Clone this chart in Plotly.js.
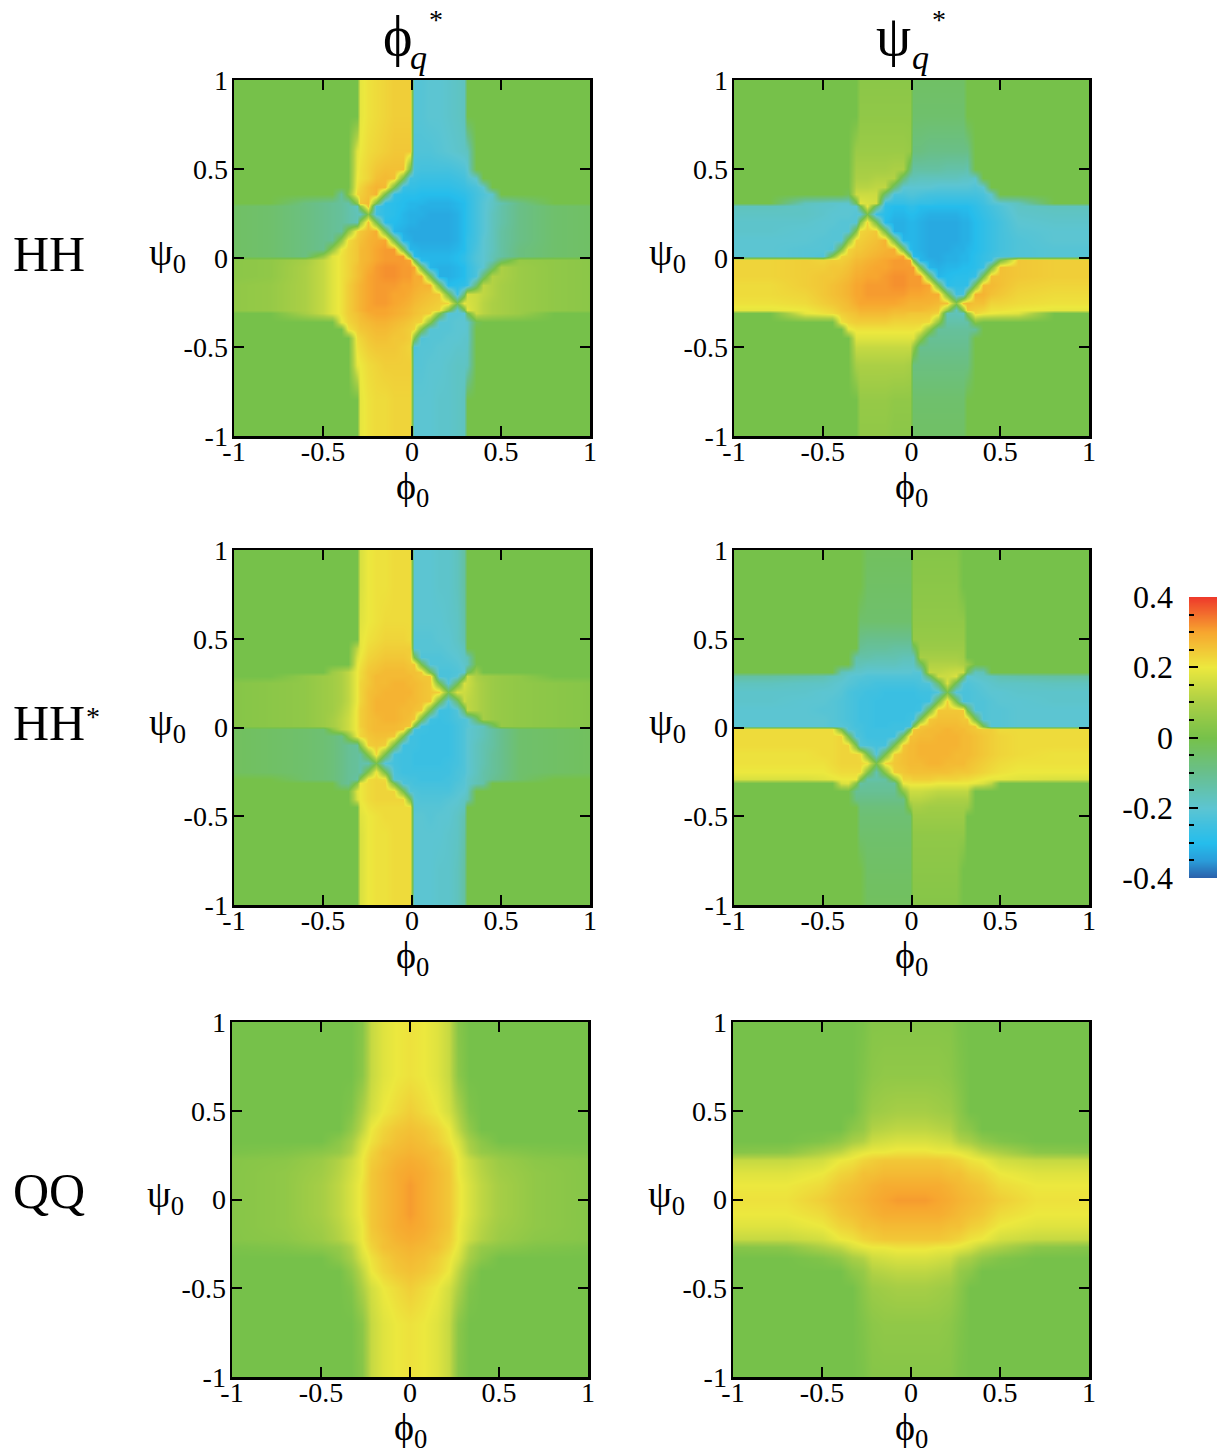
<!DOCTYPE html>
<html><head><meta charset="utf-8">
<script src="https://cdn.plot.ly/plotly-3.0.1.min.js"></script>
<style>html,body{margin:0;padding:0;background:#fff}</style></head>
<body><div id="chart" style="width:1221px;height:1456px"></div>
<script>
// Values are in hundredths. Rows run from the top of the panel down.
const phi0Grid = [-1,-.8,-.6,-.5,-.45,-.4,-.36,-.31,-.29,-.25,-.2,-.15,-.1,-.05,-.01,.01,.05,.1,.15,.2,.25,.29,.31,.36,.4,.45,.5,.6,.8,1];
const qqGrid = [-1,-.7,-.5,-.4,-.33,-.27,-.22,-.15,-.08,0,.08,.15,.22,.27,.33,.4,.5,.7,1];

const hhPhi = [
[0,0,0,0,0,0,0,0,19,21,22,23,24,24,24,-21,-21,-20,-20,-19,-18,-17,0,0,0,0,0,0,0,0],
[0,0,0,0,0,0,0,0,19,21,22,23,24,24,24,-21,-21,-20,-20,-19,-18,-17,0,0,0,0,0,0,0,0],
[0,0,0,0,0,0,0,18,20,22,23,24,25,25,25,-22,-22,-22,-21,-20,-19,-18,-17,0,0,0,0,0,0,0],
[0,0,0,0,0,0,0,19,21,23,25,26,26,26,0,-23,-24,-24,-24,-24,-23,-22,-20,0,0,0,0,0,0,0],
[0,0,0,0,0,0,0,20,21,23,26,27,26,0,-25,-25,-26,-26,-26,-26,-25,-24,-22,-19,0,0,0,0,0,0],
[0,0,0,0,0,0,0,21,23,26,28,27,0,-26,-27,-27,-28,-28,-28,-28,-27,-26,-25,-23,-20,0,0,0,0,0],
[0,0,0,0,0,-12,3,23,24,26,28,0,-27,-29,-29,-29,-30,-30,-30,-30,-29,-28,-27,-24,-22,-19,0,0,0,0],
[0,0,-8,-10,-11,-12,-14,4,25,27,0,-28,-29,-30,-31,-31,-31,-32,-32,-32,-31,-30,-28,-24,-21,-18,-15,-9,0,0],
[-4,-5,-8,-10,-11,-12,-14,-17,4,26,-24,-28,-29,-30,-31,-31,-32,-32,-32,-32,-31,-30,-28,-24,-21,-18,-14,-9,-5,-4],
[-4,-5,-8,-10,-11,-12,-14,-16,-18,3,-25,-28,-29,-31,-32,-32,-32,-33,-33,-33,-32,-30,-28,-24,-21,-17,-14,-9,-5,-4],
[-4,-5,-8,-10,-11,-12,-14,-16,5,26,0,-29,-30,-31,-32,-32,-33,-33,-33,-33,-32,-30,-28,-24,-21,-17,-14,-9,-5,-4],
[-4,-5,-8,-10,-11,-12,5,23,25,27,29,0,-31,-32,-33,-33,-33,-33,-33,-33,-32,-30,-28,-24,-21,-17,-13,-9,-5,-4],
[-4,-5,-8,-10,-11,5,22,25,26,28,29,30,0,-31,-32,-33,-33,-33,-33,-33,-32,-30,-27,-24,-20,-17,-13,-9,-5,-4],
[-4,-5,-8,-10,5,20,23,25,27,28,30,31,31,0,-31,-31,-32,-32,-32,-32,-31,-30,-27,-23,-20,-17,-13,-8,-5,-4],
[-4,-5,-8,6,18,21,23,25,27,28,30,31,31,31,0,-30,-31,-31,-31,-31,-30,-28,-26,-22,-20,-16,-13,-8,-5,-4],
[4,5,9,14,18,21,23,25,27,28,30,31,31,31,30,0,-30,-31,-31,-31,-30,-28,-26,-22,-20,-16,-6,6,5,4],
[4,5,10,14,18,21,23,26,27,29,31,32,32,31,31,30,0,-31,-32,-32,-31,-30,-27,-23,-20,-6,10,7,5,4],
[4,5,10,14,18,21,23,26,27,30,31,32,32,31,31,29,29,0,-32,-32,-31,-30,-27,-23,-6,11,10,7,5,4],
[5,6,10,14,18,21,24,27,28,30,31,31,31,30,30,29,28,28,0,-30,-29,-28,-26,-6,13,11,9,7,5,4],
[5,6,10,14,18,21,24,27,28,30,31,31,30,30,29,28,27,26,25,0,-26,-6,16,15,13,11,9,7,5,4],
[5,6,10,14,18,21,24,27,28,30,31,31,30,29,28,27,26,25,24,23,0,19,17,15,12,10,9,7,5,4],
[5,6,10,14,18,21,24,27,28,30,30,30,29,28,27,26,25,24,23,3,-21,-2,18,15,12,10,9,7,5,4],
[0,0,9,14,18,21,24,26,27,29,30,30,29,28,27,26,25,24,3,-21,-21,-20,-2,15,12,10,9,7,0,0],
[0,0,0,0,0,19,23,25,26,27,28,28,27,26,25,24,23,3,-21,-21,-20,-20,-19,-2,0,0,0,0,0,0],
[0,0,0,0,0,0,21,24,25,26,27,27,26,25,24,23,2,-21,-21,-21,-20,-20,-19,0,0,0,0,0,0,0],
[0,0,0,0,0,0,0,22,23,25,26,26,25,25,24,2,-22,-21,-21,-20,-20,-19,-19,0,0,0,0,0,0,0],
[0,0,0,0,0,0,0,21,22,24,25,25,25,24,23,-22,-21,-21,-20,-20,-19,-19,-18,0,0,0,0,0,0,0],
[0,0,0,0,0,0,0,19,20,22,23,24,24,24,24,-21,-21,-20,-20,-19,-18,-18,-17,0,0,0,0,0,0,0],
[0,0,0,0,0,0,0,0,19,21,22,22,23,23,23,-20,-20,-20,-19,-19,-18,-17,0,0,0,0,0,0,0,0],
[0,0,0,0,0,0,0,0,19,21,22,22,23,23,23,-20,-20,-20,-19,-19,-18,-17,0,0,0,0,0,0,0,0]
];

const hhStarPhi = [
[0,0,0,0,0,0,0,0,17,20,21,21,22,22,22,-20,-20,-20,-19,-19,-17,-13,0,0,0,0,0,0,0,0],
[0,0,0,0,0,0,0,0,17,20,21,21,22,22,22,-20,-20,-20,-19,-19,-17,-13,0,0,0,0,0,0,0,0],
[0,0,0,0,0,0,0,0,18,20,21,22,22,22,22,-20,-20,-20,-20,-19,-18,-14,0,0,0,0,0,0,0,0],
[0,0,0,0,0,0,0,0,19,21,22,23,23,23,22,-21,-21,-21,-20,-20,-18,-15,0,0,0,0,0,0,0,0],
[0,0,0,0,0,0,0,13,19,22,23,24,24,24,24,-21,-21,-21,-21,-20,-19,-17,0,0,0,0,0,0,0,0],
[0,0,0,0,0,0,0,17,20,23,24,25,25,25,24,0,-22,-22,-22,-21,-20,-18,-16,0,0,0,0,0,0,0],
[0,0,0,0,0,0,0,19,21,24,25,26,26,26,25,25,0,-22,-22,-22,-21,-19,-17,0,0,0,0,0,0,0],
[0,0,0,0,7,10,13,20,22,25,26,27,27,27,26,26,25,0,-23,-23,-22,-20,-3,7,0,0,0,0,0,0],
[0,0,5,7,8,10,13,20,22,25,27,27,27,27,27,26,25,25,-23,-23,-21,-3,15,10,8,7,6,5,0,0],
[3,4,5,7,8,10,13,20,23,25,27,27,28,28,27,27,26,25,0,-22,-3,17,15,11,9,7,6,5,4,3],
[3,4,5,7,8,10,13,20,23,26,27,28,28,28,28,27,26,25,24,0,17,15,14,11,9,7,6,5,4,3],
[3,4,5,7,8,10,13,20,23,26,28,28,28,28,27,27,26,25,0,-22,-5,15,13,11,9,7,6,5,4,3],
[3,4,5,7,8,11,14,21,24,26,28,28,28,27,27,26,25,0,-25,-25,-22,-5,13,11,9,7,6,5,4,3],
[3,4,5,7,9,12,15,21,24,26,27,28,28,27,26,25,0,-25,-26,-25,-23,-22,-21,-5,9,7,6,5,4,3],
[3,4,5,7,9,12,15,21,24,26,27,27,27,26,25,0,-25,-26,-26,-26,-24,-22,-21,-18,-17,-5,6,5,4,3],
[-3,-4,-5,-6,4,12,15,21,23,26,27,27,27,26,0,-24,-25,-26,-26,-26,-24,-22,-20,-18,-16,-13,-10,-5,-4,-3],
[-3,-4,-5,-6,-7,-9,4,20,23,25,26,26,25,0,-25,-25,-26,-26,-26,-26,-24,-22,-20,-18,-16,-13,-10,-5,-4,-3],
[-3,-4,-5,-6,-7,-9,-11,-12,4,24,25,24,0,-25,-25,-25,-26,-26,-26,-26,-24,-22,-20,-17,-15,-13,-10,-5,-4,-3],
[-3,-4,-5,-6,-7,-9,-11,-12,-13,4,23,0,-24,-25,-25,-26,-26,-26,-26,-26,-24,-22,-20,-17,-15,-12,-10,-5,-4,-3],
[-3,-4,-5,-6,-7,-9,-11,-12,-14,-15,0,-22,-24,-25,-25,-26,-26,-26,-26,-25,-24,-22,-20,-17,-15,-12,-10,-5,-4,-3],
[-3,-4,-5,-6,-7,-9,-11,-12,-14,3,21,0,-23,-25,-25,-25,-25,-25,-25,-25,-23,-22,-20,-17,-14,-12,-10,-5,-4,-3],
[0,0,-5,-6,-7,-9,-11,-13,3,22,23,22,-22,-23,-24,-24,-25,-25,-25,-24,-23,-21,-19,-16,-14,-11,-9,-5,0,0],
[0,0,0,0,0,-9,-11,3,20,22,23,23,0,-23,-23,-24,-24,-24,-24,-24,-22,-21,-19,-16,-14,0,0,0,0,0],
[0,0,0,0,0,0,0,18,20,22,23,23,23,0,-22,-22,-23,-23,-23,-23,-21,-20,-18,0,0,0,0,0,0,0],
[0,0,0,0,0,0,0,17,20,22,23,23,23,23,0,-21,-22,-22,-22,-21,-20,-18,-16,0,0,0,0,0,0,0],
[0,0,0,0,0,0,0,0,19,21,22,22,22,22,22,-21,-21,-21,-21,-20,-19,-17,0,0,0,0,0,0,0,0],
[0,0,0,0,0,0,0,0,18,20,21,22,22,22,22,-20,-20,-21,-20,-20,-18,-15,0,0,0,0,0,0,0,0],
[0,0,0,0,0,0,0,0,17,20,21,21,22,22,22,-20,-20,-20,-20,-19,-18,-14,0,0,0,0,0,0,0,0],
[0,0,0,0,0,0,0,0,17,20,21,21,22,22,22,-20,-20,-20,-19,-19,-17,-13,0,0,0,0,0,0,0,0],
[0,0,0,0,0,0,0,0,17,20,21,21,22,22,22,-20,-20,-20,-19,-19,-17,-13,0,0,0,0,0,0,0,0]
];

const qqPhi = [
[0,0,0,0,0,3,14,18,20,21,20,18,14,3,0,0,0,0,0],
[0,0,0,0,0,4,14,18,20,21,20,18,14,4,0,0,0,0,0],
[0,0,0,0,2,10,16,20,22,24,22,20,16,10,2,0,0,0,0],
[0,0,0,0,5,13,20,23,25,26,25,23,20,13,5,0,0,0,0],
[0,0,0,4,9,17,21,24,26,27,26,24,21,17,9,4,0,0,0],
[1,2,4,6,11,19,23,26,27,28,27,26,23,19,11,6,4,2,1],
[3,4,7,11,15,20,24,26,28,29,28,26,24,20,15,11,7,4,3],
[3,5,8,12,16,20,25,27,29,30,29,27,25,20,16,12,8,5,3],
[3,5,9,13,17,21,25,27,29,31,29,27,25,21,17,13,9,5,3],
[3,5,9,13,17,21,25,27,29,31,29,27,25,21,17,13,9,5,3],
[3,5,9,13,17,21,25,27,29,31,29,27,25,21,17,13,9,5,3],
[3,5,8,12,16,20,25,27,29,30,29,27,25,20,16,12,8,5,3],
[3,4,7,11,15,20,24,26,28,29,28,26,24,20,15,11,7,4,3],
[1,2,4,6,11,19,23,26,27,28,27,26,23,19,11,6,4,2,1],
[0,0,0,4,9,17,21,24,26,27,26,24,21,17,9,4,0,0,0],
[0,0,0,0,5,13,20,23,25,26,25,23,20,13,5,0,0,0,0],
[0,0,0,0,2,10,16,20,22,24,22,20,16,10,2,0,0,0,0],
[0,0,0,0,0,4,14,18,20,21,20,18,14,4,0,0,0,0,0],
[0,0,0,0,0,3,14,18,20,21,20,18,14,3,0,0,0,0,0]
];

const scaleLevels = [-40,-36,-32,-28,-24,-20,-16,-12,-8,-4,0,4,8,12,16,20,24,28,32,36,40];
const ticks = [-1,-.5,0,.5,1];
const tickLabels = ['-1','-0.5','0','0.5','1'];
const scaleTicks = [-.4,-.2,0,.2,.4];
const scaleTickLabels = ['-0.4','-0.2','0','0.2','0.4'];

const colors = [[0,'#2a5ea9'],[.0625,'#2a9cd9'],[.125,'#25bdec'],[.1875,'#3fc0e0'],[.25,'#5cc5d2'],[.375,'#68bf8e'],[.5,'#76c14a'],
  [.625,'#abcf45'],[.75,'#ece83e'],[.875,'#f7a62f'],[1,'#ee3a2b']];

const W=1221,H=1456, FONT='"Liberation Serif","Times New Roman",serif';
const panels = [
 {n:1,l:234,r:590,t:80,b:436,z:hhPhi,swap:false,grid:phi0Grid},
 {n:2,l:734,r:1089,t:80,b:436,z:hhPhi,swap:true,grid:phi0Grid},
 {n:3,l:234,r:590,t:550,b:905,z:hhStarPhi,swap:false,grid:phi0Grid},
 {n:4,l:734,r:1089,t:550,b:905,z:hhStarPhi,swap:true,grid:phi0Grid},
 {n:5,l:232,r:588,t:1022,b:1377,z:qqPhi,swap:false,grid:qqGrid},
 {n:6,l:733,r:1089,t:1022,b:1377,z:qqPhi,swap:true,grid:qqGrid}
];
const traces=[], annotations=[];
const layout={width:W,height:H,autosize:false,margin:{l:0,r:0,t:0,b:0},paper_bgcolor:'#fff',plot_bgcolor:'#fff',showlegend:false,font:{family:FONT,color:'#000'}};
function note(text,x,y,size,extra){annotations.push(Object.assign({text:text,x:x/W,y:1-y/H,xref:'paper',yref:'paper',showarrow:false,xanchor:'center',yanchor:'middle',font:{family:FONT,size:size,color:'#000'}},extra||{}));}
panels.forEach(p=>{
  const s=p.n===1?'':p.n;
  const ysAsc=p.grid, zAsc=p.z.slice().reverse().map(r=>r.map(v=>v/100));
  traces.push({type:'heatmap',xaxis:'x'+s,yaxis:'y'+s,z:zAsc,transpose:p.swap,x:p.grid,y:ysAsc,
    zmin:-.4,zmax:.4,zsmooth:'best',colorscale:colors,showscale:false,hoverinfo:'skip'});
  const ax={range:[-1,1],tickmode:'array',tickvals:ticks,ticktext:tickLabels,ticks:'inside',ticklen:10,tickwidth:2,tickcolor:'#000',
    showline:true,linecolor:'#000',linewidth:2.5,mirror:'ticks',showgrid:false,zeroline:false,tickfont:{family:FONT,size:28,color:'#000'}};
  layout['xaxis'+s]=Object.assign({},ax,{domain:[p.l/W,p.r/W],anchor:'y'+s,ticklabelstandoff:-11});
  layout['yaxis'+s]=Object.assign({},ax,{domain:[1-p.b/H,1-p.t/H],anchor:'x'+s,ticklabelstandoff:-2});
  const cx=(p.l+p.r)/2;
  note('ϕ<sub>0</sub>',cx,p.b+53,38);
  note('ψ<sub>0</sub>',p.l-67,(p.t+p.b)/2-3,38);
});
note('ϕ',397,36,56);
note('<i>q</i>',418,58,34);
note('*',436,20,28);
note('ψ',893,36,56);
note('<i>q</i>',920,58,34);
note('*',939,20,28);
note('HH',11,254,50,{xanchor:'left'});
note('HH',11,723,50,{xanchor:'left'});
note('*',93,716,28);
note('QQ',11,1191,50,{xanchor:'left'});

// colour scale drawn as its own small heatmap so the labels sit on the left
const lv=scaleLevels.map(v=>v/100);
traces.push({type:'heatmap',xaxis:'x7',yaxis:'y7',x:[0,1],y:lv,z:lv.map(v=>[v,v]),zmin:-.4,zmax:.4,zsmooth:'best',colorscale:colors,showscale:false,hoverinfo:'skip'});
layout.xaxis7={domain:[1189/W,1217/W],anchor:'y7',range:[0,1],visible:false};
layout.yaxis7={domain:[1-878/H,1-597/H],anchor:'x7',range:[-.4,.4],tickmode:'array',tickvals:scaleTicks,ticktext:scaleTickLabels,ticks:'inside',ticklen:9,tickwidth:2,tickcolor:'#000',
  showline:false,showgrid:false,zeroline:false,ticklabelstandoff:15,tickfont:{family:FONT,size:32,color:'#000'},
  minor:{dtick:.05,ticks:'inside',ticklen:5,tickwidth:2,tickcolor:'#000',showgrid:false}};
layout.annotations=annotations;
Plotly.newPlot('chart',traces,layout,{displayModeBar:false,staticPlot:true});
</script></body></html>
